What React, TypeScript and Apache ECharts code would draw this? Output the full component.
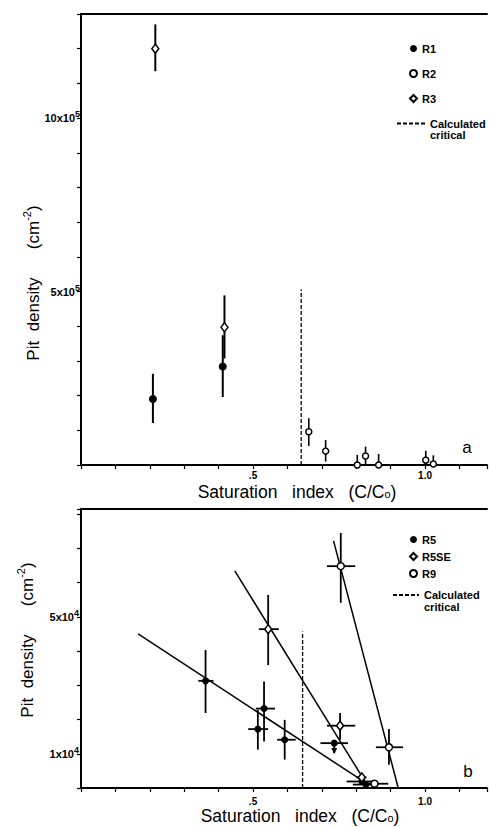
import React, { useEffect, useRef } from 'react';
import * as echarts from 'echarts';

// ---------- Panel a data (pit density, cm^-2) ----------
const R1_x = [0.209, 0.412];
const R1_y = [190000, 284000];
const R1_yLow = [121000, 196000];
const R1_yHigh = [263000, 374000];

const R2_x = [0.662, 0.711, 0.803, 0.827, 0.865, 1.002, 1.024];
const R2_y = [96000, 40000, 0, 26000, 0, 14000, 3000];
const R2_yLow = [55000, 10000, 0, 0, 0, 0, 0];
const R2_yHigh = [135000, 72000, 29000, 53000, 32000, 41000, 28000];

const R3_x = [0.216, 0.417];
const R3_y = [1200000, 397000];
const R3_yLow = [1135000, 307000];
const R3_yHigh = [1270000, 489000];

const CRIT_A_x = 0.64;
const CRIT_A_top = 506000;

// ---------- Panel b data ----------
const R5_x = [0.362, 0.532, 0.514, 0.592, 0.736, 0.816, 0.828];
const R5_y = [31300, 23200, 17200, 14100, 13100, 1900, 1000];
const R5_yLow = [21900, 13600, 11200, 8300, 10200, 1900, 1000];
const R5_yHigh = [40300, 31100, 22800, 19900, 13100, 1900, 1000];
const R5_xLow = [0.341, 0.508, 0.486, 0.57, 0.696, 0.772, 0.79];
const R5_xHigh = [0.385, 0.564, 0.544, 0.624, 0.776, 0.858, 0.845];
const R5_upperLimit = [0, 0, 0, 0, 1, 0, 0];

const R5SE_x = [0.544, 0.753, 0.816];
const R5SE_y = [46400, 18200, 3100];
const R5SE_yLow = [35900, 14100, 2000];
const R5SE_yHigh = [56400, 21900, 4000];
const R5SE_xLow = [0.517, 0.715, 0.8];
const R5SE_xHigh = [0.575, 0.797, 0.83];

const R9_x = [0.755, 0.895, 0.853];
const R9_y = [64800, 11900, 1250];
const R9_yLow = [54100, 6800, 1250];
const R9_yHigh = [74500, 17200, 1250];
const R9_xLow = [0.715, 0.857, 0.815];
const R9_xHigh = [0.797, 0.936, 0.893];

const FIT_R5 = [[0.166, 45000], [0.82, 2000]];
const FIT_R5SE = [[0.447, 63400], [0.825, 2000]];
const FIT_R9 = [[0.734, 72200], [0.922, 0]];

const CRIT_B_x = 0.644;
const CRIT_B_top = 45700;

const FONT = 'Liberation Sans';
const CRIT_NAME = 'Calculated critical';

function zipPts(xs: number[], ys: number[]) {
  return xs.map((x, i) => [x, ys[i]]);
}

function errRows(xs: number[], ys: number[], yl: number[], yh: number[], xl?: number[], xh?: number[], up?: number[]) {
  return xs.map((x, i) => [x, ys[i], xl ? xl[i] : x, xh ? xh[i] : x, yl[i], yh[i], up ? up[i] : 0]);
}

function makeRenderErr(lw: number) {
  return (params: any, api: any) => {
    const x = api.value(0), y = api.value(1);
    const xl = api.value(2), xh = api.value(3), yl = api.value(4), yh = api.value(5), up = api.value(6);
    const st = { stroke: '#000', lineWidth: lw };
    const children: any[] = [];
    if (yh !== yl) {
      const a = api.coord([x, yh]);
      const b = api.coord([x, yl]);
      children.push({ type: 'line', shape: { x1: a[0], y1: a[1], x2: b[0], y2: b[1] }, style: st });
      if (up) {
        children.push({ type: 'polygon', shape: { points: [[b[0] - 3, b[1] - 5], [b[0] + 3, b[1] - 5], [b[0], b[1] + 1]] }, style: { fill: '#000' } });
      }
    }
    if (xh !== xl) {
      const a = api.coord([xl, y]);
      const b = api.coord([xh, y]);
      children.push({ type: 'line', shape: { x1: a[0], y1: a[1], x2: b[0], y2: b[1] }, style: st });
    }
    return { type: 'group', children };
  };
}

const supLabel = (main: string, sup: string) => `{m|${main}}{s|${sup}}`;

const labelRich = {
  m: { fontFamily: FONT, fontWeight: 'bold', fontSize: 11, color: '#000' },
  s: { fontFamily: FONT, fontWeight: 'bold', fontSize: 9, color: '#000', padding: [0, 0, 8, 0] },
};

const legendText = { fontFamily: FONT, fontWeight: 'bold', fontSize: 11, color: '#000' };

export default function App() {
  const ref = useRef<HTMLDivElement>(null);
  useEffect(() => {
    if (!ref.current) return;
    const chart = echarts.init(ref.current, undefined, { renderer: 'svg' });

    const axisLine = { show: true, onZero: false, lineStyle: { color: '#000', width: 2 } };
    const tick = { show: true, inside: false, length: 4, lineStyle: { color: '#000', width: 1.2 } };
    const xLabel = (margin: number) => ({
      show: true,
      margin,
      fontFamily: FONT,
      fontWeight: 'bold',
      fontSize: 10,
      lineHeight: 11,
      color: '#000',
      formatter: (v: number) => (Math.abs(v - 0.5) < 1e-6 ? '.5' : Math.abs(v - 1) < 1e-6 ? '1.0' : ''),
    });
    const xBase = (grid: number) => ({
      type: 'value', gridIndex: grid, min: 0, max: 1.18, interval: 0.1, position: 'bottom',
      axisLine, axisTick: tick, splitLine: { show: false },
    });
    const xTop = (grid: number) => ({
      type: 'value', gridIndex: grid, min: 0, max: 1.18, position: 'top',
      axisLine, axisTick: { show: false }, axisLabel: { show: false }, splitLine: { show: false },
    });

    const scatterBase = { type: 'scatter', clip: true, z: 5 };
    const filled = { color: '#000', opacity: 1 };
    const open = { color: '#fff', borderColor: '#000', borderWidth: 1.5, opacity: 1 };

    const titleRich = {
      m: { fontFamily: FONT, fontSize: 17.5, lineHeight: 17, fill: '#000' },
      o: { fontFamily: FONT, fontSize: 11, lineHeight: 12, fill: '#000', padding: [4, 0, 0, 0] },
    };
    const yTitleRich = {
      m: { fontFamily: FONT, fontSize: 17, fill: '#000' },
      s: { fontFamily: FONT, fontSize: 11, fill: '#000', padding: [0, 0, 12, 0] },
    };

    const option: any = {
      animation: false,
      backgroundColor: '#fff',
      grid: [
        { left: 81, top: 14, right: 0, height: 451 },
        { left: 81, top: 509, right: 0, height: 279 },
      ],
      xAxis: [
        { ...xBase(0), axisLabel: xLabel(5) },
        xTop(0),
        { ...xBase(1), axisLabel: xLabel(8) },
        xTop(1),
      ],
      yAxis: [
        {
          type: 'value', gridIndex: 0, min: 0, max: 1300000, interval: 100000,
          axisLine, axisTick: tick, splitLine: { show: false },
          axisLabel: {
            margin: 1,
            formatter: (v: number) => (v === 500000 ? supLabel('5x10', '5') : v === 1000000 ? supLabel('10x10', '5') : ''),
            rich: labelRich,
          },
        },
        {
          type: 'value', gridIndex: 1, min: 0, max: 81500, interval: 10000,
          axisLine, axisTick: tick, splitLine: { show: false },
          axisLabel: {
            margin: 2,
            formatter: (v: number) => (v === 50000 ? supLabel('5x10', '4') : v === 10000 ? supLabel('1x10', '4') : ''),
            rich: labelRich,
          },
        },
      ],
      legend: [
        {
          data: ['R1', 'R2', 'R3'], orient: 'vertical', left: 404, top: 38,
          itemWidth: 7, itemHeight: 7, itemGap: 14,
          textStyle: legendText, selectedMode: false,
        },
        {
          data: [CRIT_NAME], orient: 'vertical', left: 391, top: 102,
          itemWidth: 28, itemHeight: 8, selectedMode: false,
          itemStyle: { opacity: 0 },
          formatter: () => ' \nCalculated\ncritical',
          textStyle: { ...legendText, lineHeight: 11 },
        },
        {
          data: ['R5', 'R5SE', 'R9'], orient: 'vertical', left: 404, top: 529,
          itemWidth: 7, itemHeight: 7, itemGap: 6,
          textStyle: legendText, selectedMode: false,
        },
        {
          data: [CRIT_NAME], orient: 'vertical', left: 387, top: 572,
          itemWidth: 26, itemHeight: 8, selectedMode: false,
          itemStyle: { opacity: 0 },
          formatter: () => ' \nCalculated\ncritical',
          textStyle: { ...legendText, lineHeight: 12 },
        },
      ],
      series: [
        // ---- panel a ----
        { type: 'custom', name: 'errA_R1', xAxisIndex: 0, yAxisIndex: 0, renderItem: makeRenderErr(2), data: errRows(R1_x, R1_y, R1_yLow, R1_yHigh), z: 3 },
        { type: 'custom', name: 'errA_R2', xAxisIndex: 0, yAxisIndex: 0, renderItem: makeRenderErr(1.6), data: errRows(R2_x, R2_y, R2_yLow, R2_yHigh), z: 3 },
        { type: 'custom', name: 'errA_R3', xAxisIndex: 0, yAxisIndex: 0, renderItem: makeRenderErr(2), data: errRows(R3_x, R3_y, R3_yLow, R3_yHigh), z: 3 },
        {
          type: 'line', name: CRIT_NAME, xAxisIndex: 0, yAxisIndex: 0, symbol: 'none', showSymbol: false,
          lineStyle: { color: '#000', width: 1.3, type: [4, 2] }, itemStyle: { color: '#000' },
          data: [[CRIT_A_x, 0], [CRIT_A_x, CRIT_A_top]], z: 2,
        },
        { ...scatterBase, name: 'R1', xAxisIndex: 0, yAxisIndex: 0, symbol: 'circle', symbolSize: 8, itemStyle: filled, data: zipPts(R1_x, R1_y) },
        { ...scatterBase, name: 'R2', xAxisIndex: 0, yAxisIndex: 0, symbol: 'circle', symbolSize: 6, itemStyle: open, data: zipPts(R2_x, R2_y) },
        { ...scatterBase, name: 'R3', xAxisIndex: 0, yAxisIndex: 0, symbol: 'diamond', symbolSize: [7, 9], itemStyle: open, data: zipPts(R3_x, R3_y) },
        // ---- panel b ----
        { type: 'line', name: 'fitR5', xAxisIndex: 2, yAxisIndex: 1, symbol: 'none', lineStyle: { color: '#000', width: 1.5 }, data: FIT_R5, z: 2 },
        { type: 'line', name: 'fitR5SE', xAxisIndex: 2, yAxisIndex: 1, symbol: 'none', lineStyle: { color: '#000', width: 1.5 }, data: FIT_R5SE, z: 2 },
        { type: 'line', name: 'fitR9', xAxisIndex: 2, yAxisIndex: 1, symbol: 'none', lineStyle: { color: '#000', width: 1.5 }, data: FIT_R9, z: 2 },
        {
          type: 'line', name: CRIT_NAME, xAxisIndex: 2, yAxisIndex: 1, symbol: 'none', showSymbol: false,
          lineStyle: { color: '#000', width: 1.3, type: [4, 2] }, itemStyle: { color: '#000' },
          data: [[CRIT_B_x, 0], [CRIT_B_x, CRIT_B_top]], z: 2,
        },
        { type: 'custom', name: 'errB_R5', xAxisIndex: 2, yAxisIndex: 1, renderItem: makeRenderErr(1.8), data: errRows(R5_x, R5_y, R5_yLow, R5_yHigh, R5_xLow, R5_xHigh, R5_upperLimit), z: 3 },
        { type: 'custom', name: 'errB_R5SE', xAxisIndex: 2, yAxisIndex: 1, renderItem: makeRenderErr(1.8), data: errRows(R5SE_x, R5SE_y, R5SE_yLow, R5SE_yHigh, R5SE_xLow, R5SE_xHigh), z: 3 },
        { type: 'custom', name: 'errB_R9', xAxisIndex: 2, yAxisIndex: 1, renderItem: makeRenderErr(1.8), data: errRows(R9_x, R9_y, R9_yLow, R9_yHigh, R9_xLow, R9_xHigh), z: 3 },
        { ...scatterBase, name: 'R5', xAxisIndex: 2, yAxisIndex: 1, symbol: 'circle', symbolSize: 7, itemStyle: filled, data: zipPts(R5_x, R5_y) },
        { ...scatterBase, name: 'R5SE', xAxisIndex: 2, yAxisIndex: 1, symbol: 'diamond', symbolSize: [7, 9], itemStyle: open, data: zipPts(R5SE_x, R5SE_y) },
        { ...scatterBase, name: 'R9', xAxisIndex: 2, yAxisIndex: 1, symbol: 'circle', symbolSize: 7, itemStyle: open, data: zipPts(R9_x, R9_y) },
      ],
      graphic: [
        {
          type: 'text', x: 297, y: 492,
          style: { text: '{m|Saturation   index   (C/C}{o|o}{m|)}', align: 'center', verticalAlign: 'middle', rich: titleRich },
        },
        {
          type: 'text', x: 300, y: 816,
          style: { text: '{m|Saturation   index   (C/C}{o|o}{m|)}', align: 'center', verticalAlign: 'middle', rich: titleRich },
        },
        {
          type: 'text', x: 33, y: 283, rotation: Math.PI / 2,
          style: { text: '{m|Pit  density      (cm}{s|-2}{m|)}', align: 'center', verticalAlign: 'middle', rich: yTitleRich },
        },
        {
          type: 'text', x: 27, y: 640, rotation: Math.PI / 2,
          style: { text: '{m|Pit  density      (cm}{s|-2}{m|)}', align: 'center', verticalAlign: 'middle', rich: yTitleRich },
        },
        { type: 'text', x: 467, y: 447, style: { text: 'a', fontFamily: FONT, fontSize: 17, fill: '#000', align: 'center', verticalAlign: 'middle' } },
        { type: 'text', x: 468, y: 771, style: { text: 'b', fontFamily: FONT, fontSize: 17, fill: '#000', align: 'center', verticalAlign: 'middle' } },
      ],
    };
    chart.setOption(option);
    return () => chart.dispose();
  }, []);
  return <div ref={ref} style={{ position: 'absolute', left: 0, top: 0, width: 490, height: 827, background: '#fff' }} />;
}
